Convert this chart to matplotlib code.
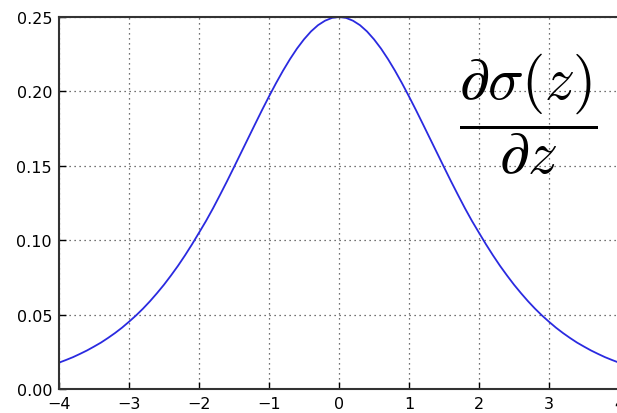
import matplotlib
matplotlib.use("Agg")
import matplotlib.pyplot as plt

# derivative of the sigmoid, sampled every 0.1
z = [-4.0, -3.9, -3.8, -3.7, -3.6, -3.5, -3.4, -3.3, -3.2, -3.1,
     -3.0, -2.9, -2.8, -2.7, -2.6, -2.5, -2.4, -2.3, -2.2, -2.1,
     -2.0, -1.9, -1.8, -1.7, -1.6, -1.5, -1.4, -1.3, -1.2, -1.1,
     -1.0, -0.9, -0.8, -0.7, -0.6, -0.5, -0.4, -0.3, -0.2, -0.1,
     0.0, 0.1, 0.2, 0.3, 0.4, 0.5, 0.6, 0.7, 0.8, 0.9,
     1.0, 1.1, 1.2, 1.3, 1.4, 1.5, 1.6, 1.7, 1.8, 1.9,
     2.0, 2.1, 2.2, 2.3, 2.4, 2.5, 2.6, 2.7, 2.8, 2.9,
     3.0, 3.1, 3.2, 3.3, 3.4, 3.5, 3.6, 3.7, 3.8, 3.9, 4.0]
dsig = [0.0177, 0.0195, 0.0214, 0.0236, 0.0259, 0.0285, 0.0312, 0.0343, 0.0376, 0.0412,
        0.0452, 0.0494, 0.0540, 0.0590, 0.0644, 0.0701, 0.0763, 0.0828, 0.0898, 0.0972,
        0.1050, 0.1129, 0.1214, 0.1304, 0.1396, 0.1491, 0.1587, 0.1683, 0.1779, 0.1874,
        0.1966, 0.2055, 0.2139, 0.2217, 0.2288, 0.2350, 0.2403, 0.2445, 0.2475, 0.2494,
        0.2500, 0.2494, 0.2475, 0.2445, 0.2403, 0.2350, 0.2288, 0.2217, 0.2139, 0.2055,
        0.1966, 0.1874, 0.1779, 0.1683, 0.1587, 0.1491, 0.1396, 0.1304, 0.1214, 0.1129,
        0.1050, 0.0972, 0.0898, 0.0828, 0.0763, 0.0701, 0.0644, 0.0590, 0.0540, 0.0494,
        0.0452, 0.0412, 0.0376, 0.0343, 0.0312, 0.0285, 0.0259, 0.0236, 0.0214, 0.0195, 0.0177]
xticks = [-4, -3, -2, -1, 0, 1, 2, 3, 4]
yticks = [0.00, 0.05, 0.10, 0.15, 0.20, 0.25]

plt.rcParams['mathtext.fontset'] = 'cm'

fig = plt.figure(figsize=(6.17, 4.14), dpi=100)
ax = fig.add_axes([59 / 617, 24 / 414, 560 / 617, 372 / 414])
ax.plot(z, dsig, color='#2a2ae0', lw=1.3)

ax.set_xlim(-4, 4)
ax.set_ylim(0, 0.25)
ax.set_xticks(xticks)
ax.set_yticks(yticks)
ax.set_xticklabels([str(t).replace('-', '\u2212') for t in xticks])
ax.set_yticklabels(['%.2f' % t for t in yticks])
ax.tick_params(direction='in', length=5, width=1, labelsize=11.5, pad=5)
ax.grid(True, color='#444444', linestyle=(0, (1, 3)), linewidth=0.9)
for s in ax.spines.values():
    s.set_linewidth(1.5)
    s.set_color('#333333')

ax.text(2.7, 0.1857, r'$\dfrac{\partial\sigma(z)}{\partial z}$', fontsize=43,
        ha='center', va='center')

fig.savefig('out.png', dpi=100)
